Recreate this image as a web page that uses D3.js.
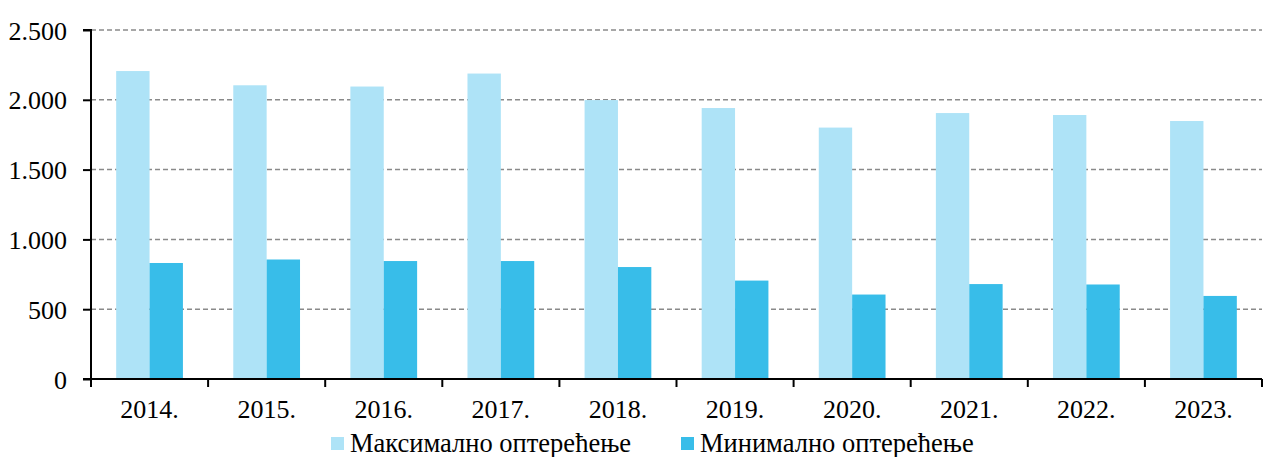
<!DOCTYPE html>
<html><head><meta charset="utf-8">
<script src="https://cdn.jsdelivr.net/npm/d3@7"></script>
<style>body{margin:0;background:#fff}svg{display:block}text{font-family:'Liberation Serif','Times New Roman',serif;fill:#000}</style>
</head><body><svg id="c" width="1264" height="457"></svg>
<script>
const categories = ["2014.","2015.","2016.","2017.","2018.","2019.","2020.","2021.","2022.","2023."];
const maxLoad = [2206,2104,2095,2188,1998,1941,1801,1905,1891,1848];
const minLoad = [831,856,845,845,802,705,605,680,677,595];
const seriesNames = ["Максимално оптерећење","Минимално оптерећење"];
const yTicks = [0,500,1000,1500,2000,2500];
const colors = ["#AEE3F7","#38BDE9"];

const svg = d3.select("#c");
const L=91, R=1262, T=30, B=379;
const font = "'Liberation Serif','Times New Roman',serif";
const x = d3.scaleBand().domain(categories).range([L,R]).paddingInner(0.43).paddingOuter(0.215);
const xs = d3.scaleBand().domain([0,1]).range([0,x.bandwidth()]);
const y = d3.scaleLinear().domain([0,2500]).range([B,T]);

// grid
svg.append("g").selectAll("line").data(yTicks.filter(d=>d>0)).join("line")
  .attr("x1",L).attr("x2",R).attr("y1",d=>y(d)).attr("y2",d=>y(d))
  .attr("stroke","#8a8a8a").attr("stroke-width",1.5).attr("stroke-dasharray","5,3");

const series=[maxLoad,minLoad];
series.forEach((vals,si)=>{
  svg.append("g").selectAll("rect").data(vals).join("rect")
    .attr("x",(d,i)=>x(categories[i])+xs(si))
    .attr("width",xs.bandwidth())
    .attr("y",d=>y(d)).attr("height",d=>B-y(d))
    .attr("fill",colors[si]);
});

// y axis
const ya = svg.append("g").attr("transform",`translate(${L},0)`)
  .call(d3.axisLeft(y).tickValues(yTicks).tickSize(8).tickPadding(6)
    .tickFormat(d=>d3.format(",")(d).replace(/,/g,".")));
ya.attr("font-family",null).attr("font-size",null);
ya.select(".domain").attr("stroke","#000").attr("stroke-width",2).attr("d",`M-8,${y(2500)}H0V${B}`);
ya.selectAll(".tick line").attr("stroke","#000").attr("stroke-width",2);
ya.selectAll("text").style("font-family",font).style("font-size","26px").attr("fill","#000").attr("dx","-10").attr("dy","0.35em");

// x axis
const xBounds = d3.range(categories.length+1).map(i=>L+i*(R-L)/categories.length);
svg.append("line").attr("x1",L-8).attr("x2",R).attr("y1",B).attr("y2",B).attr("stroke","#000").attr("stroke-width",2);
svg.append("g").selectAll("line").data(xBounds).join("line")
  .attr("x1",d=>d).attr("x2",d=>d).attr("y1",B).attr("y2",B+8).attr("stroke","#000").attr("stroke-width",2);
svg.append("g").selectAll("text").data(categories).join("text")
  .attr("x",d=>x(d)+x.bandwidth()/2).attr("y",418)
  .attr("text-anchor","middle").style("font-family",font).style("font-size","26px").text(d=>d);

// legend
const lg=[{x:331},{x:681}];
seriesNames.forEach((n,i)=>{
  svg.append("rect").attr("x",lg[i].x).attr("y",437).attr("width",13).attr("height",13).attr("fill",colors[i]);
  svg.append("text").attr("x",lg[i].x+19).attr("y",452).style("font-family",font).style("font-size","26.5px").text(n);
});
</script></body></html>
